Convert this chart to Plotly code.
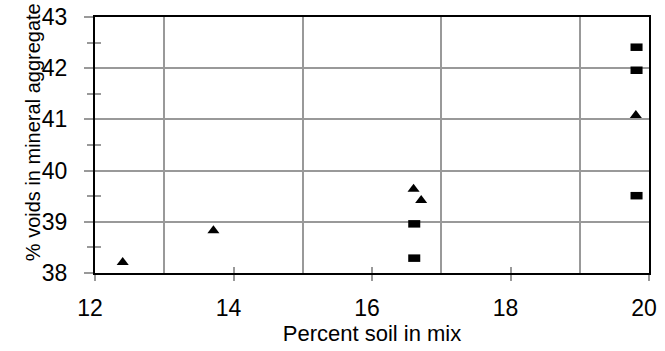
import plotly.graph_objects as go

# Percent soil vs. % voids in mineral aggregate (VMA)
tri_soil = [12.40, 13.71, 16.60, 16.71, 19.81]
tri_vma = [38.21, 38.83, 39.64, 39.42, 41.08]

sq_soil = [16.61, 16.61, 19.82, 19.82, 19.82]
sq_vma = [38.96, 38.29, 42.41, 41.96, 39.51]

x_ticks = [12, 14, 16, 18, 20]
y_ticks = [38, 39, 40, 41, 42, 43]

FONT = "Liberation Sans, Arial, sans-serif"
GRID = "#999999"

fig = go.Figure()

fig.add_trace(go.Scatter(
    x=tri_soil, y=tri_vma, mode="markers",
    marker=dict(symbol="triangle-up", size=10.5, color="black",
                line=dict(width=0)),
    showlegend=False,
))
# flat rectangular markers: a short thick horizontal stroke
fig.add_trace(go.Scatter(
    x=sq_soil, y=sq_vma, mode="markers",
    marker=dict(symbol="line-ew", size=8.6, color="black",
                line=dict(width=7.5, color="black")),
    showlegend=False,
))
# carrier trace for the overlay axes that draw the inner half of the ticks
fig.add_trace(go.Scatter(
    x=[x_ticks[0]], y=[y_ticks[0]], mode="markers", xaxis="x2", yaxis="y2",
    marker=dict(opacity=0), hoverinfo="skip", showlegend=False,
))

fig.update_layout(
    width=665, height=351,
    margin=dict(l=95, r=16, t=17, b=78),
    paper_bgcolor="white", plot_bgcolor="white",
    font=dict(family=FONT, color="black"),
    xaxis=dict(
        range=[12, 20], tickvals=x_ticks, ticktext=[str(v) for v in x_ticks],
        showgrid=False, zeroline=False, automargin=False,
        showline=True, linecolor="black", linewidth=2, mirror=True,
        ticks="outside", ticklen=6, tickwidth=2, tickcolor=GRID,
        tickfont=dict(size=23, family=FONT), ticklabelshift=-5,
        ticklabelstandoff=7,
        minor=dict(tick0=13, dtick=2, showgrid=True, gridcolor=GRID,
                   gridwidth=2, ticks=""),
        title=dict(text="Percent soil in mix", font=dict(size=22, family=FONT),
                   standoff=6),
    ),
    yaxis=dict(
        range=[38, 43], tickvals=y_ticks, ticktext=[str(v) for v in y_ticks],
        showgrid=True, gridcolor=GRID, gridwidth=2, zeroline=False,
        automargin=False,
        showline=True, linecolor="black", linewidth=2, mirror=True,
        ticks="outside", ticklen=9, tickwidth=2, tickcolor=GRID,
        tickfont=dict(size=23, family=FONT), ticklabelstandoff=12,
        minor=dict(tick0=38.5, dtick=1, ticks="outside", ticklen=6,
                   tickwidth=2, tickcolor=GRID, showgrid=False),
    ),
    xaxis2=dict(
        overlaying="x", matches="x", anchor="y2", side="bottom",
        tickvals=x_ticks, ticks="inside", ticklen=6, tickwidth=2,
        tickcolor=GRID, showticklabels=False, showgrid=False,
        showline=False, zeroline=False, automargin=False,
    ),
    yaxis2=dict(
        overlaying="y", matches="y", anchor="x2", side="left",
        tickvals=[], ticks="inside", showticklabels=False, showgrid=False,
        showline=False, zeroline=False, automargin=False,
        minor=dict(tick0=38.5, dtick=1, ticks="inside", ticklen=6,
                   tickwidth=2, tickcolor=GRID, showgrid=False),
    ),
    annotations=[dict(
        text="% voids in mineral aggregate", textangle=-90,
        xref="paper", yref="paper", x=0, y=0.55,
        xanchor="center", yanchor="middle", xshift=-62, showarrow=False,
        font=dict(size=20, family=FONT, color="black"),
    )],
)

fig.write_html("out.html")
